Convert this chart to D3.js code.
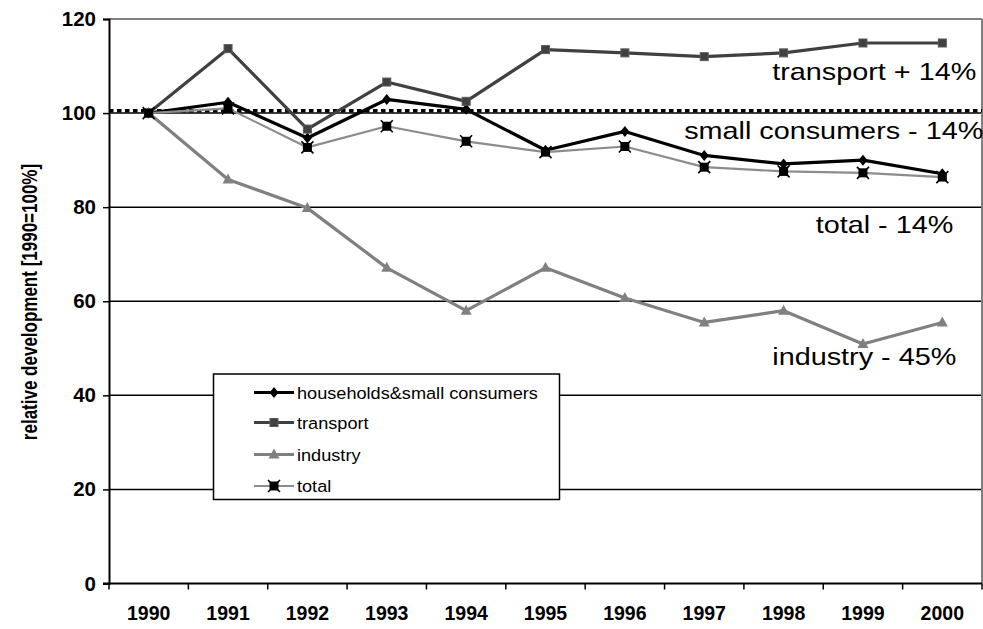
<!DOCTYPE html>
<html>
<head>
<meta charset="utf-8">
<script src="https://cdn.jsdelivr.net/npm/d3@7"></script>
<style>
  html, body { margin: 0; padding: 0; background: #fff; }
  svg { display: block; font-family: "Liberation Sans", Arial, sans-serif; }
</style>
</head>
<body>
<svg id="chart" width="983" height="629"></svg>
<script>
// Energy use by sector, relative to 1990 (1990 = 100%)
const years = ["1990","1991","1992","1993","1994","1995","1996","1997","1998","1999","2000"];
const households = [100, 102.3, 94.7, 102.9, 100.8, 92.1, 96.1, 91.0, 89.2, 90.0, 87.1];
const transport  = [100, 113.7, 96.6, 106.6, 102.5, 113.5, 112.8, 112.0, 112.8, 114.9, 114.9];
const industry   = [100, 85.9, 79.8, 67.1, 58.0, 67.1, 60.7, 55.5, 58.0, 50.9, 55.5];
const total      = [100, 101.0, 92.7, 97.2, 94.0, 91.7, 92.9, 88.5, 87.6, 87.3, 86.4];
const seriesNames = ["households&small consumers", "transport", "industry", "total"];
const yTicks = [0, 20, 40, 60, 80, 100, 120];
const referenceLevel = 100.5;
const annotations = [
  { text: "transport + 14%", year: "2000", value: 107.1, dx: 34 },
  { text: "small consumers - 14%", year: "2000", value: 94.5, dx: 41 },
  { text: "total - 14%", year: "2000", value: 74.5, dx: 11 },
  { text: "industry - 45%", year: "2000", value: 46.4, dx: 14 }
];

const svg = d3.select("#chart");
const plotLeft = 109, plotRight = 982, plotTop = 19, plotBottom = 583.5;

const x = d3.scaleBand().domain(years).range([plotLeft, plotRight]);
const y = d3.scaleLinear().domain([0, 120]).range([plotBottom, plotTop]);
const cx = d => x(d) + x.bandwidth() / 2;

// horizontal gridlines
svg.append("g").selectAll("line")
  .data(yTicks.filter(t => t > 0 && t < 120))
  .join("line")
  .attr("x1", plotLeft).attr("x2", plotRight)
  .attr("y1", d => y(d)).attr("y2", d => y(d))
  .attr("stroke", "#000").attr("stroke-width", 1.5);

// plot frame: top and right edges in grey
svg.append("line").attr("x1", plotLeft).attr("x2", plotRight).attr("y1", y(120)).attr("y2", y(120))
  .attr("stroke", "#808080").attr("stroke-width", 2);
svg.append("line").attr("x1", plotRight).attr("x2", plotRight).attr("y1", y(120)).attr("y2", plotBottom)
  .attr("stroke", "#808080").attr("stroke-width", 2);

// y axis
const yAxis = d3.axisLeft(y).tickValues(yTicks).tickSize(6).tickPadding(7);
const gy = svg.append("g").attr("transform", `translate(${plotLeft},0)`).call(yAxis);
gy.select(".domain").attr("stroke", "#000").attr("stroke-width", 2);
gy.selectAll(".tick line").attr("stroke", "#000").attr("stroke-width", 1.5);
gy.selectAll(".tick text").attr("font-size", 20.5).attr("font-weight", "bold").attr("fill", "#000")
  .attr("font-family", "Liberation Sans, Arial, sans-serif");

// x axis: ticks at band boundaries, labels at band centres
const gx = svg.append("g").attr("transform", `translate(0,${plotBottom})`);
gx.append("line").attr("x1", plotLeft - 6).attr("x2", plotRight).attr("stroke", "#000").attr("stroke-width", 2);
gx.selectAll("line.tk").data(years.concat(["end"])).join("line").attr("class", "tk")
  .attr("x1", (d, i) => plotLeft + i * x.step()).attr("x2", (d, i) => plotLeft + i * x.step())
  .attr("y1", 0).attr("y2", 6).attr("stroke", "#000").attr("stroke-width", 1.5);
gx.selectAll("text").data(years).join("text")
  .attr("x", d => cx(d)).attr("y", 36)
  .attr("text-anchor", "middle").attr("font-size", 19.5).attr("font-weight", "bold")
  .text(d => d);

// y axis title
svg.append("text")
  .attr("transform", `translate(37,302) rotate(-90) scale(1,1.25)`)
  .attr("text-anchor", "middle").attr("font-size", 17).attr("font-weight", "bold")
  .text("relative development [1990=100%]");

// dotted reference line at the 1990 level
svg.append("line").attr("x1", plotLeft).attr("x2", plotRight)
  .attr("y1", y(referenceLevel)).attr("y2", y(referenceLevel))
  .attr("stroke", "#000").attr("stroke-width", 3.5).attr("stroke-dasharray", "4.5,3.5");

// series definitions
const series = [
  { name: seriesNames[0], values: households, color: "#000000", width: 3.2, marker: "diamond", mfill: "#000" },
  { name: seriesNames[1], values: transport,  color: "#404040", width: 3.2, marker: "square",  mfill: "#404040" },
  { name: seriesNames[2], values: industry,   color: "#808080", width: 3.2, marker: "triangle", mfill: "#808080" },
  { name: seriesNames[3], values: total,      color: "#8c8c8c", width: 2.2, marker: "star",    mfill: "#000" }
];

function drawMarker(g, type, fill, px, py) {
  if (type === "diamond") {
    g.append("path").attr("d", `M${px},${py - 5.5}L${px + 4.5},${py}L${px},${py + 5.5}L${px - 4.5},${py}Z`)
      .attr("fill", fill);
  } else if (type === "square") {
    g.append("rect").attr("x", px - 4).attr("y", py - 4).attr("width", 8).attr("height", 8)
      .attr("fill", fill).attr("stroke", "#5a5a5a").attr("stroke-width", 1);
  } else if (type === "triangle") {
    g.append("path").attr("d", `M${px},${py - 6}L${px + 5.5},${py + 4}L${px - 5.5},${py + 4}Z`)
      .attr("fill", fill);
  } else if (type === "star") {
    g.append("rect").attr("x", px - 4.5).attr("y", py - 4.5).attr("width", 9).attr("height", 9).attr("fill", fill);
    g.append("path").attr("d", `M${px - 6},${py + 6}L${px + 6},${py - 6}M${px - 6},${py - 6}L${px + 6},${py + 6}`)
      .attr("stroke", fill).attr("stroke-width", 1.6);
  }
}

const line = d3.line().x((d, i) => cx(years[i])).y(d => y(d));
series.forEach(s => {
  const g = svg.append("g");
  g.append("path").datum(s.values).attr("d", line)
    .attr("fill", "none").attr("stroke", s.color).attr("stroke-width", s.width)
    .attr("stroke-linejoin", "round");
  s.values.forEach((v, i) => drawMarker(g, s.marker, s.mfill, cx(years[i]), y(v)));
});

// end-of-period annotations
annotations.forEach(a => {
  svg.append("text")
    .attr("transform", `translate(${cx(a.year) + a.dx},${y(a.value)}) scale(1.2,1)`)
    .attr("text-anchor", "end").attr("font-size", 24).attr("fill", "#000")
    .text(a.text);
});

// legend
const lg = svg.append("g");
lg.append("rect").attr("x", 213.5).attr("y", 374).attr("width", 346).attr("height", 125.5)
  .attr("fill", "#fff").attr("stroke", "#000").attr("stroke-width", 1.5);
const rowY = [392.5, 422.5, 454.5, 486];
series.forEach((s, i) => {
  lg.append("line").attr("x1", 254).attr("x2", 294).attr("y1", rowY[i]).attr("y2", rowY[i])
    .attr("stroke", s.color).attr("stroke-width", s.width);
  drawMarker(lg, s.marker, s.mfill, 274, rowY[i]);
  lg.append("text")
    .attr("transform", `translate(297,${rowY[i] + 6}) scale(1.1,1)`)
    .attr("font-size", 16.5).attr("fill", "#000")
    .text(s.name);
});
</script>
</body>
</html>
